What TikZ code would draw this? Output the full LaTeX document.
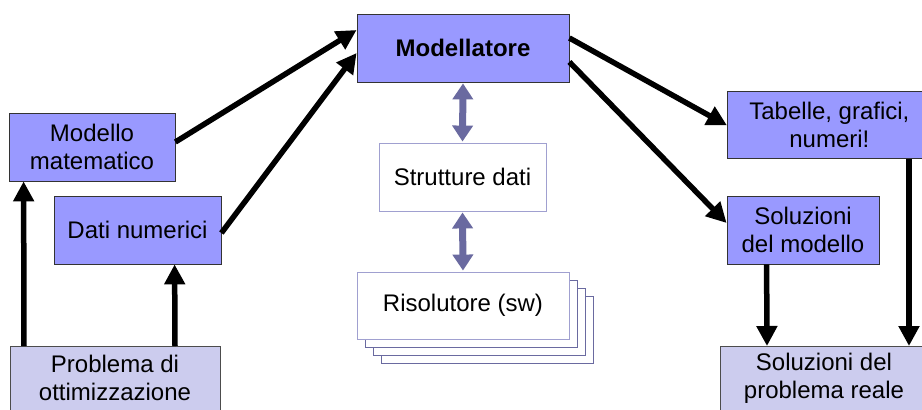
\documentclass[tikz,border=0pt]{standalone}
\usepackage{fontspec}
\setmainfont{Liberation Sans}
\usetikzlibrary{arrows.meta,calc}
\definecolor{boxblue}{HTML}{9999FF}
\definecolor{boxlilac}{HTML}{CCCCEE}
\definecolor{arrpurple}{HTML}{6A6AA0}
\definecolor{lightborder}{HTML}{A0A0D0}
\begin{document}
\begin{tikzpicture}[x=1pt,y=-1pt,
  every node/.style={font=\fontsize{24}{28}\selectfont, align=center, inner sep=0pt},
  bluebox/.style={draw=black!80, line width=0.8pt, fill=boxblue},
  lilacbox/.style={draw=black!70, line width=0.8pt, fill=boxlilac},
  whitebox/.style={draw=lightborder, line width=0.9pt, fill=white},
  stackbox/.style={draw=arrpurple, line width=0.9pt, fill=white},
  blk/.style={line width=5.5pt, -{Triangle[length=20pt,width=20pt]}},
  purp/.style={line width=7pt, draw=arrpurple, {Triangle[length=16pt,width=20pt]}-{Triangle[length=16pt,width=20pt]}}
]
\clip (0,0) rectangle (922,410);
\fill[white] (0,0) rectangle (922,410);
% boxes
\node[bluebox, minimum width=212pt, minimum height=68pt, font=\fontsize{24}{28}\selectfont\bfseries] (mod) at (463,48) {Modellatore};
\node[bluebox, minimum width=166pt, minimum height=68pt] (mm) at (92,147) {Modello\\matematico};
\node[bluebox, minimum width=167pt, minimum height=68pt] (dn) at (137.5,230) {Dati numerici};
\node[lilacbox, minimum width=210pt, minimum height=70pt, anchor=north west] (pr) at (10,346) {};
\node at (115,378) {Problema di\\ottimizzazione};
\node[whitebox, minimum width=167pt, minimum height=68pt] (sd) at (462.5,177) {Strutture dati};
% stack
\foreach \d in {24,16,8} {
  \draw[stackbox] (357+\d,272+\d) rectangle (569+\d,339+\d);
}
\node[whitebox, minimum width=212pt, minimum height=67pt] (ri) at (463,305.5) {Risolutore (sw)};
\node[bluebox, minimum width=204pt, minimum height=67pt, anchor=north west] (tb) at (727,91) {Tabelle, grafici,\\numeri!};
\node[bluebox, minimum width=152pt, minimum height=68pt] (sm) at (803,230) {Soluzioni\\del modello};
\node[lilacbox, minimum width=210pt, minimum height=70pt, anchor=north west] (sp) at (720,346) {};
\node at (824,378) {Soluzioni del\\problema reale};
% black arrows
\draw[blk] ([yshift=5pt]mm.east) -- ([yshift=18pt]mod.west);
\draw[blk] ([yshift=-3pt]dn.east) -- ([yshift=-5pt]mod.west);
\draw[blk] ([yshift=10pt]mod.east) -- ([yshift=-0.5pt]tb.west);
\draw[blk] ([yshift=-14pt]mod.east) -- ([yshift=7pt]sm.west);
\draw[blk] ([xshift=14pt]pr.north west) -- ([xshift=15pt]mm.south west);
\draw[blk] ([xshift=165pt]pr.north west) -- ([xshift=121pt]dn.south west);
\draw[blk] ([xshift=40pt]sm.south west) -- ([xshift=47pt]sp.north west);
\draw[blk] ([xshift=182pt]tb.south west) -- ([xshift=189pt]sp.north west);
% purple double arrows
\draw[purp] ([yshift=-1pt]mod.south) -- ([yshift=1pt]sd.north);
\draw[purp] ([yshift=-1pt]sd.south) -- ([yshift=1pt]ri.north);
\end{tikzpicture}
\end{document}
